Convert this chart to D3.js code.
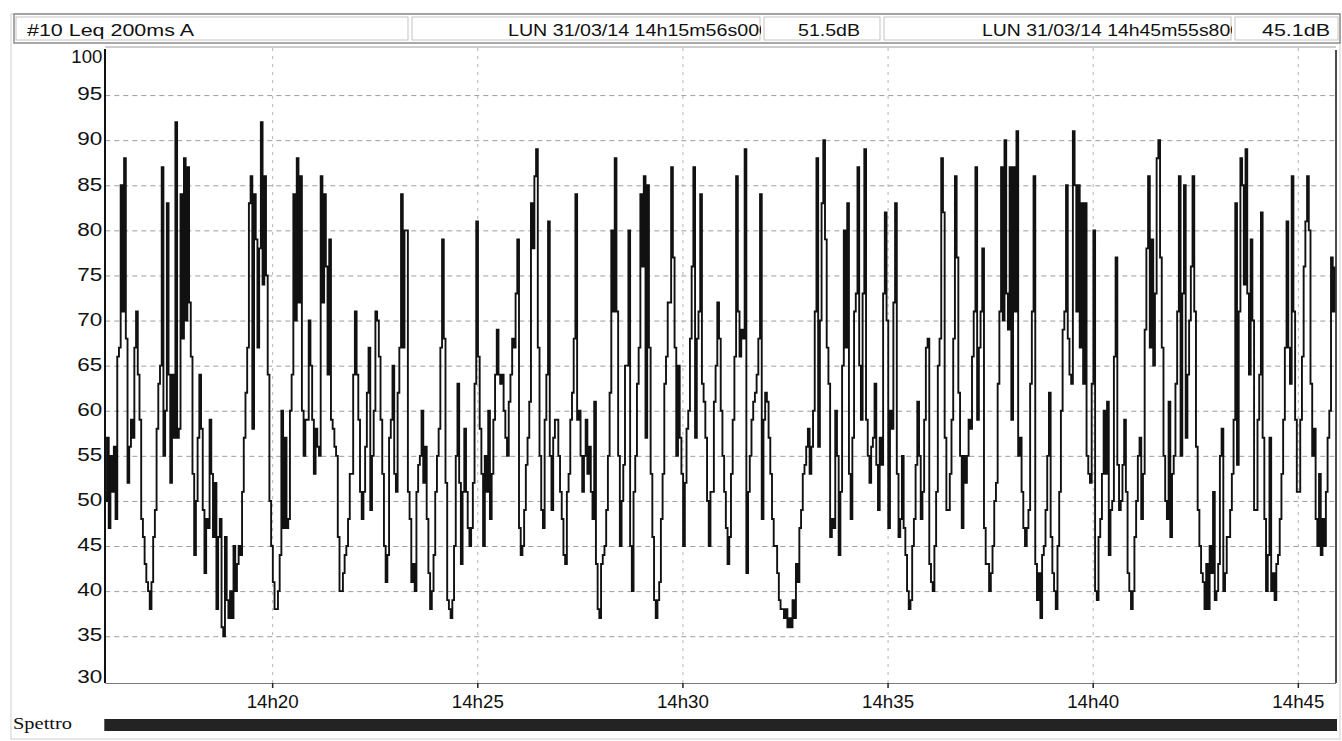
<!DOCTYPE html>
<html>
<head>
<meta charset="utf-8">
<script src="https://cdn.jsdelivr.net/npm/d3@7"></script>
<style>
  html, body { margin: 0; padding: 0; background: #fff; }
  svg text { fill: #111; }
</style>
</head>
<body>
<div id="my_chart"></div>
<script>
// header fields
const channelLabel = "#10 Leq 200ms A";
const startLabel = "LUN 31/03/14 14h15m56s000";
const startLevel = "51.5dB";
const endLabel = "LUN 31/03/14 14h45m55s800";
const endLevel = "45.1dB";
const bandLabel = "Spettro";

const startTime = "2014-03-31 14:15:56.000";
const endTime = "2014-03-31 14:45:55.800";
const sampleStep = 2.5; // seconds between the values

const yTicks = [30, 35, 40, 45, 50, 55, 60, 65, 70, 75, 80, 85, 90, 95, 100];
const xTicks = ["2014-03-31 14:20:00.000", "2014-03-31 14:25:00.000", "2014-03-31 14:30:00.000",
  "2014-03-31 14:35:00.000", "2014-03-31 14:40:00.000", "2014-03-31 14:45:00.000"];
const xTickLabels = ["14h20", "14h25", "14h30", "14h35", "14h40", "14h45"];

// Leq dB(A), one value every 2.5 s from 14h15m56s
const leq = [
  // 14h15m56 -> 14h20
  50,57,47,55,51,56,48,66,67,85, 71,88,68,52,56,59,57,67,71,64,
  59,48,46,43,41,40,38,41,46,49, 58,63,65,87,55,60,83,64,52,64,
  57,92,57,58,84,68,88,70,87,72, 66,53,44,50,57,64,58,49,42,48,
  47,59,53,46,52,38,46,48,36,35, 46,39,37,40,37,45,40,43,45,44,
  51,57,62,67,83,86,58,84,79,67, 78,92,74,86,75,64,50,45,
  // 14h20 -> 14h24
  41,38,38,40,44,60,47,57,47,48, 60,64,84,70,88,72,86,60,55,59,
  59,70,65,59,53,58,56,55,86,72, 84,76,64,79,59,58,56,55,46,40,
  40,42,44,45,48,53,53,64,71,64, 59,51,48,51,56,62,67,49,55,60,
  71,70,66,59,53,45,41,44,57,59, 65,53,51,62,67,84,67,80,80,51,
  48,41,43,40,51,54,55,60,52,56, 48,42,38,40,44,51,55,58,67,79,
  68,52,39,
  // 14h24 -> 14h32
  38,37,39,45,55,63,52,43,51,58, 51,47,45,47,52,63,81,66,58,53,
  45,55,51,60,48,53,59,64,69,64, 63,64,60,57,55,61,64,68,67,73,
  79,47,44,45,49,54,57,61,83,78, 86,89,67,55,49,47,59,64,81,55,
  49,57,59,59,55,51,48,44,43,51, 53,59,62,68,84,59,60,55,51,55,
  59,53,56,51,48,61,43,38,37,43, 44,45,49,55,62,80,71,88,71,55,
  45,50,54,65,65,80,45,40,51,55, 63,67,84,76,86,57,85,67,53,46,
  39,37,39,41,48,53,63,66,72,72, 87,77,67,55,65,57,53,45,52,58,
  60,68,76,87,57,68,71,84,63,61, 57,50,45,51,51,61,65,72,68,60,
  55,51,47,43,46,53,59,66,86,71, 66,69,68,89,42,51,55,59,61,62,
  64,68,84,48,59,62,61,57,53,48, 45,45,42,39,38,38,37,38,36,37,
  // 14h32 -> 14h39
  36,39,37,43,41,47,49,53,54,56, 58,53,56,60,71,88,56,70,83,90,
  79,67,63,46,48,47,60,55,44,51, 65,80,67,83,53,48,57,71,73,87,
  65,59,73,89,59,55,52,56,57,63, 54,49,57,54,73,82,70,47,60,58,
  72,83,53,46,48,55,47,44,40,38, 39,45,48,54,61,55,48,51,59,67,
  68,43,41,40,45,51,65,68,88,82, 57,49,49,53,59,68,86,77,62,55,
  47,55,52,55,59,58,66,71,87,59, 67,71,78,47,43,43,40,42,45,50,
  52,63,71,87,70,90,73,69,87,59, 87,71,91,55,57,51,47,45,47,49,
  63,71,86,43,39,42,37,44,45,49, 55,62,46,42,40,38,45,51,60,69,
  71,85,68,64,63,91,85,71,85,67,
  // 14h39 -> 14h45m55
  83,63,83,55,53,52,63,80,40,39, 46,48,53,60,53,61,44,49,50,66,
  77,54,49,50,54,59,51,42,40,38, 40,46,50,55,57,48,53,69,78,86,
  67,79,65,73,88,90,77,67,55,50, 48,61,46,53,55,63,71,86,55,73,
  85,57,64,70,76,86,71,56,49,45, 42,41,38,43,38,45,42,51,39,40,
  43,55,58,40,42,46,46,49,53,59, 83,54,71,88,85,74,89,73,64,79,
  70,49,49,59,64,82,57,48,40,44, 57,40,42,39,43,44,48,53,59,67,
  81,67,63,86,71,59,51,51,59,66, 76,81,86,80,63,55,58,48,45,53,
  44,48,45,51,57,60,77,71,76
];

const width = 1342, height = 741;
const plotLeft = 105.3, plotRight = 1336, plotTop = 47, plotBottom = 683;
const sansFont = "'Liberation Sans', Arial, sans-serif";

const parseTime = d3.timeParse("%Y-%m-%d %H:%M:%S.%L");
const t0 = parseTime(startTime), t1 = parseTime(endTime);

const svg = d3.select("#my_chart")
  .append("svg")
  .attr("width", width)
  .attr("height", height);

const x = d3.scaleTime().domain([t0, t1]).range([plotLeft, plotRight]);
const y = d3.scaleLinear().domain([30, 100]).range([681.3, 50]);

// outer frame
svg.append("rect")
  .attr("x", 11).attr("y", 14).attr("width", 1329).attr("height", 725)
  .attr("fill", "none").attr("stroke", "#cfcfcf").attr("stroke-width", 1);

// header boxes
const headerTop = 14, headerBottom = 43;
svg.append("rect")
  .attr("x", 14).attr("y", headerTop).attr("width", 1326).attr("height", headerBottom - headerTop)
  .attr("fill", "#fff").attr("stroke", "#8c8c8c").attr("stroke-width", 1.5);

const fields = [
  { x0: 14, x1: 410, text: channelLabel, tx: 27, tw: 167 },
  { x0: 410, x1: 762, text: startLabel, tx: 508, tw: 262 },
  { x0: 762, x1: 882, text: startLevel, tx: 798, tw: 62 },
  { x0: 882, x1: 1233, text: endLabel, tx: 982, tw: 259 },
  { x0: 1233, x1: 1340, text: endLevel, tx: 1262, tw: 68 }
];

const defs = svg.append("defs");
fields.forEach((f, i) => {
  defs.append("clipPath").attr("id", "hclip" + i)
    .append("rect")
    .attr("x", f.x0 + 1).attr("y", headerTop).attr("width", f.x1 - f.x0 - 2).attr("height", headerBottom - headerTop);
});

svg.selectAll("headerBoxes")
  .data(fields)
  .join("rect")
  .attr("x", d => d.x0 + 2)
  .attr("y", headerTop + 3)
  .attr("width", d => d.x1 - d.x0 - 4)
  .attr("height", headerBottom - headerTop - 6)
  .attr("fill", "none")
  .attr("stroke", "#c4c4c4")
  .attr("stroke-width", 1);

svg.selectAll("headerTexts")
  .data(fields)
  .join("text")
  .attr("clip-path", (d, i) => `url(#hclip${i})`)
  .attr("x", d => d.tx)
  .attr("y", 36)
  .style("font-family", sansFont)
  .attr("font-size", 16)
  .attr("textLength", d => d.tw)
  .attr("lengthAdjust", "spacingAndGlyphs")
  .text(d => d.text);

// plot frame top line
svg.append("line")
  .attr("x1", plotLeft).attr("x2", plotRight).attr("y1", plotTop).attr("y2", plotTop)
  .attr("stroke", "#9a9a9a").attr("stroke-width", 1);

// horizontal grid
svg.append("g")
  .attr("transform", `translate(${plotLeft},0)`)
  .call(d3.axisLeft(y).tickValues(yTicks.filter(v => v > 30 && v < 100))
    .tickSize(-(plotRight - plotLeft)).tickFormat(""))
  .call(g => g.select(".domain").remove())
  .call(g => g.selectAll(".tick line")
    .attr("stroke", "#9d9d9d")
    .attr("stroke-dasharray", "5,4"));

// vertical grid
const xTickDates = xTicks.map(parseTime);
svg.append("g")
  .attr("transform", `translate(0,${plotBottom})`)
  .call(d3.axisBottom(x).tickValues(xTickDates).tickSize(-(plotBottom - plotTop)).tickFormat(""))
  .call(g => g.select(".domain").remove())
  .call(g => g.selectAll(".tick line")
    .attr("stroke", "#b5b5b5")
    .attr("stroke-dasharray", "3,5"));

// bottom axis with labels
svg.append("g")
  .attr("transform", `translate(0,${plotBottom})`)
  .call(d3.axisBottom(x).tickValues(xTickDates).tickSize(5).tickPadding(7)
    .tickFormat((d, i) => xTickLabels[i]))
  .call(g => g.select(".domain")
    .attr("d", `M${plotLeft},0.5H${plotRight}`)
    .attr("stroke", "#7a7a7a"))
  .call(g => g.selectAll(".tick line").attr("stroke", "#222").attr("stroke-width", 1.5))
  .call(g => g.selectAll(".tick text")
    .style("font-family", sansFont)
    .attr("font-size", 18)
    .attr("fill", "#111")
    .attr("textLength", 52)
    .attr("lengthAdjust", "spacingAndGlyphs"));

// left axis labels
svg.append("g")
  .attr("transform", `translate(${plotLeft},0)`)
  .call(d3.axisLeft(y).tickValues(yTicks).tickSize(0).tickPadding(3))
  .call(g => g.select(".domain").remove())
  .call(g => g.selectAll(".tick text")
    .style("font-family", sansFont)
    .attr("font-size", 18)
    .attr("fill", "#111")
    .attr("y", d => d === 100 ? 7 : d === 30 ? -5 : -1)
    .attr("textLength", d => String(d).length > 2 ? 31 : 25)
    .attr("lengthAdjust", "spacingAndGlyphs"));

// clip for the trace
defs.append("clipPath").attr("id", "plotclip")
  .append("rect")
  .attr("x", plotLeft).attr("y", plotTop).attr("width", plotRight - plotLeft).attr("height", plotBottom - plotTop);

const points = leq.map((v, i) => [new Date(t0.getTime() + i * sampleStep * 1000), v]);

const line = d3.line()
  .curve(d3.curveStepAfter)
  .x(d => x(d[0]))
  .y(d => y(d[1]));

svg.append("path")
  .datum(points)
  .attr("clip-path", "url(#plotclip)")
  .attr("d", line)
  .attr("fill", "none")
  .attr("stroke", "#111")
  .attr("stroke-width", 1.9)
  .attr("stroke-linejoin", "miter");

// left axis line and right border
svg.append("line")
  .attr("x1", plotLeft - 0.3).attr("x2", plotLeft - 0.3).attr("y1", 49).attr("y2", plotBottom)
  .attr("stroke", "#111").attr("stroke-width", 2);
svg.append("line")
  .attr("x1", plotRight).attr("x2", plotRight).attr("y1", 50).attr("y2", plotBottom)
  .attr("stroke", "#111").attr("stroke-width", 1.5);

// spectrum band
svg.append("text")
  .attr("x", 13).attr("y", 729)
  .style("font-family", "'Liberation Serif', 'Times New Roman', serif")
  .attr("font-size", 17)
  .attr("textLength", 59)
  .attr("lengthAdjust", "spacingAndGlyphs")
  .text(bandLabel);

svg.append("rect")
  .attr("x", x(t0) - 1).attr("y", 719)
  .attr("width", x(t1) - x(t0) + 2).attr("height", 12)
  .attr("fill", "#232323");
</script>
</body>
</html>
